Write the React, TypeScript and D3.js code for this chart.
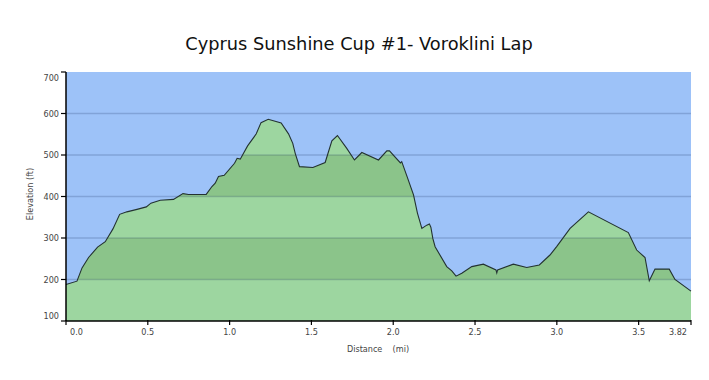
import React from "react";
import * as d3 from "d3";

const distances = [
  0.0, 0.067, 0.098, 0.138, 0.193, 0.24, 0.287, 0.328, 0.372, 0.434, 0.491, 0.519, 0.576, 0.657,
  0.715, 0.749, 0.857, 0.892, 0.912, 0.932, 0.967, 1.03, 1.046, 1.065, 1.11, 1.163, 1.192, 1.236,
  1.315, 1.36, 1.386, 1.401, 1.427, 1.509, 1.584, 1.625, 1.659, 1.716, 1.763, 1.808, 1.91, 1.961,
  1.977, 2.044, 2.052, 2.081, 2.124, 2.148, 2.175, 2.205, 2.221, 2.23, 2.242, 2.256, 2.327, 2.358,
  2.384, 2.419, 2.48, 2.551, 2.628, 2.633, 2.638, 2.734, 2.816, 2.893, 2.958, 3.0, 3.081, 3.193,
  3.437, 3.488, 3.539, 3.565, 3.6, 3.687, 3.722, 3.82,
];
const elevations = [
  188, 196, 228, 253, 278, 291, 322, 357, 363, 369, 375, 384, 391, 393,
  407, 405, 405, 424, 432, 448, 451, 480, 492, 490, 522, 551, 578, 586,
  577, 551, 528, 504, 472, 470, 482, 534, 547, 516, 488, 506, 488, 510,
  510, 481, 484, 452, 404, 360, 323, 331, 334, 326, 299, 279, 231, 221,
  208, 215, 231, 237, 223, 216, 223, 237, 229, 235, 259, 280, 323, 363,
  313, 271, 253, 197, 225, 225, 200, 172,
];
const yTicks = [100, 200, 300, 400, 500, 600, 700];
const xTicks = [0, 0.5, 1.0, 1.5, 2.0, 2.5, 3.0, 3.5, 3.82];
const xTickLabels = ["0.0", "0.5", "1.0", "1.5", "2.0", "2.5", "3.0", "3.5", "3.82"];
const darkBands = [
  [200, 300],
  [400, 500],
  [600, 700],
];
const title = "Cyprus Sunshine Cup #1- Voroklini Lap";
const xTitle = "Distance    (mi)";
const yTitle = "Elevation (ft)";

const W = 709;
const H = 380;
const left = 66;
const right = 691;
const top = 72;
const bottom = 321;

const font = "'DejaVu Sans Condensed', 'DejaVu Sans', sans-serif";

export default function App() {
  const x = d3.scaleLinear().domain([0, 3.82]).range([left, right]);
  const y = d3.scaleLinear().domain([100, 700]).range([bottom, top]);
  const data = distances.map((d, i) => ({ d, e: elevations[i] }));
  const area = d3
    .area<{ d: number; e: number }>()
    .x((p) => x(p.d))
    .y0(y(100))
    .y1((p) => y(p.e));
  const line = d3
    .line<{ d: number; e: number }>()
    .x((p) => x(p.d))
    .y((p) => y(p.e));
  const areaPath = area(data) || "";

  return (
    <svg
      width={W}
      height={H}
      style={{ position: "absolute", left: 0, top: 0, background: "#fff" }}
    >
      <defs>
        <clipPath id="areaClip">
          <path d={areaPath} />
        </clipPath>
      </defs>
      <text
        x={359}
        y={50}
        textAnchor="middle"
        fontFamily="'DejaVu Sans', sans-serif"
        fontSize={17.8}
        fill="#111"
      >
        {title}
      </text>
      <rect x={left} y={top} width={right - left} height={bottom - top} fill="#9dc2f8" />
      <path d={areaPath} fill="#9dd6a0" />
      <g clipPath="url(#areaClip)">
        {darkBands.map(([a, b], i) => (
          <rect key={i} x={left} y={y(b)} width={right - left} height={y(a) - y(b)} fill="#8bc48a" />
        ))}
      </g>
      {yTicks.slice(1, -1).map((t) => (
        <line
          key={t}
          x1={left}
          x2={right}
          y1={y(t)}
          y2={y(t)}
          stroke="rgba(20,40,90,0.2)"
          strokeWidth={1.5}
        />
      ))}
      <path d={line(data) || ""} fill="none" stroke="#233232" strokeWidth={1.1} />
      {/* y axis */}
      <line x1={left} x2={left} y1={top} y2={bottom} stroke="#000" strokeWidth={1.5} />
      {yTicks.map((t, i) => (
        <g key={t}>
          <line x1={left - 5} x2={left} y1={y(t)} y2={y(t)} stroke="#000" strokeWidth={1.2} />
          <text
            x={left - 7}
            y={y(t) + (i === 0 ? -5 : i === yTicks.length - 1 ? 6 : 0)}
            dy="0.35em"
            textAnchor="end"
            fontFamily={font}
            fontSize={9}
            fill="#444"
          >
            {t}
          </text>
        </g>
      ))}
      {/* x axis */}
      <line x1={left} x2={right} y1={bottom} y2={bottom} stroke="#000" strokeWidth={1.5} />
      {xTicks.map((t, i) => (
        <g key={t}>
          <line x1={x(t)} x2={x(t)} y1={bottom - 1} y2={bottom + 4} stroke="#000" strokeWidth={1.2} />
          <text
            x={x(t) + (i === 0 ? 4 : i === xTicks.length - 1 ? -4 : 0)}
            y={bottom + 14}
            textAnchor={i === 0 ? "start" : i === xTicks.length - 1 ? "end" : "middle"}
            fontFamily={font}
            fontSize={9}
            fill="#444"
          >
            {xTickLabels[i]}
          </text>
        </g>
      ))}
      <text
        x={378}
        y={352}
        textAnchor="middle"
        fontFamily={font}
        fontSize={9}
        fill="#444"
        style={{ whiteSpace: "pre" }}
      >
        {xTitle}
      </text>
      <text
        transform={`translate(33,194) rotate(-90)`}
        textAnchor="middle"
        fontFamily={font}
        fontSize={9}
        fill="#444"
      >
        {yTitle}
      </text>
    </svg>
  );
}
